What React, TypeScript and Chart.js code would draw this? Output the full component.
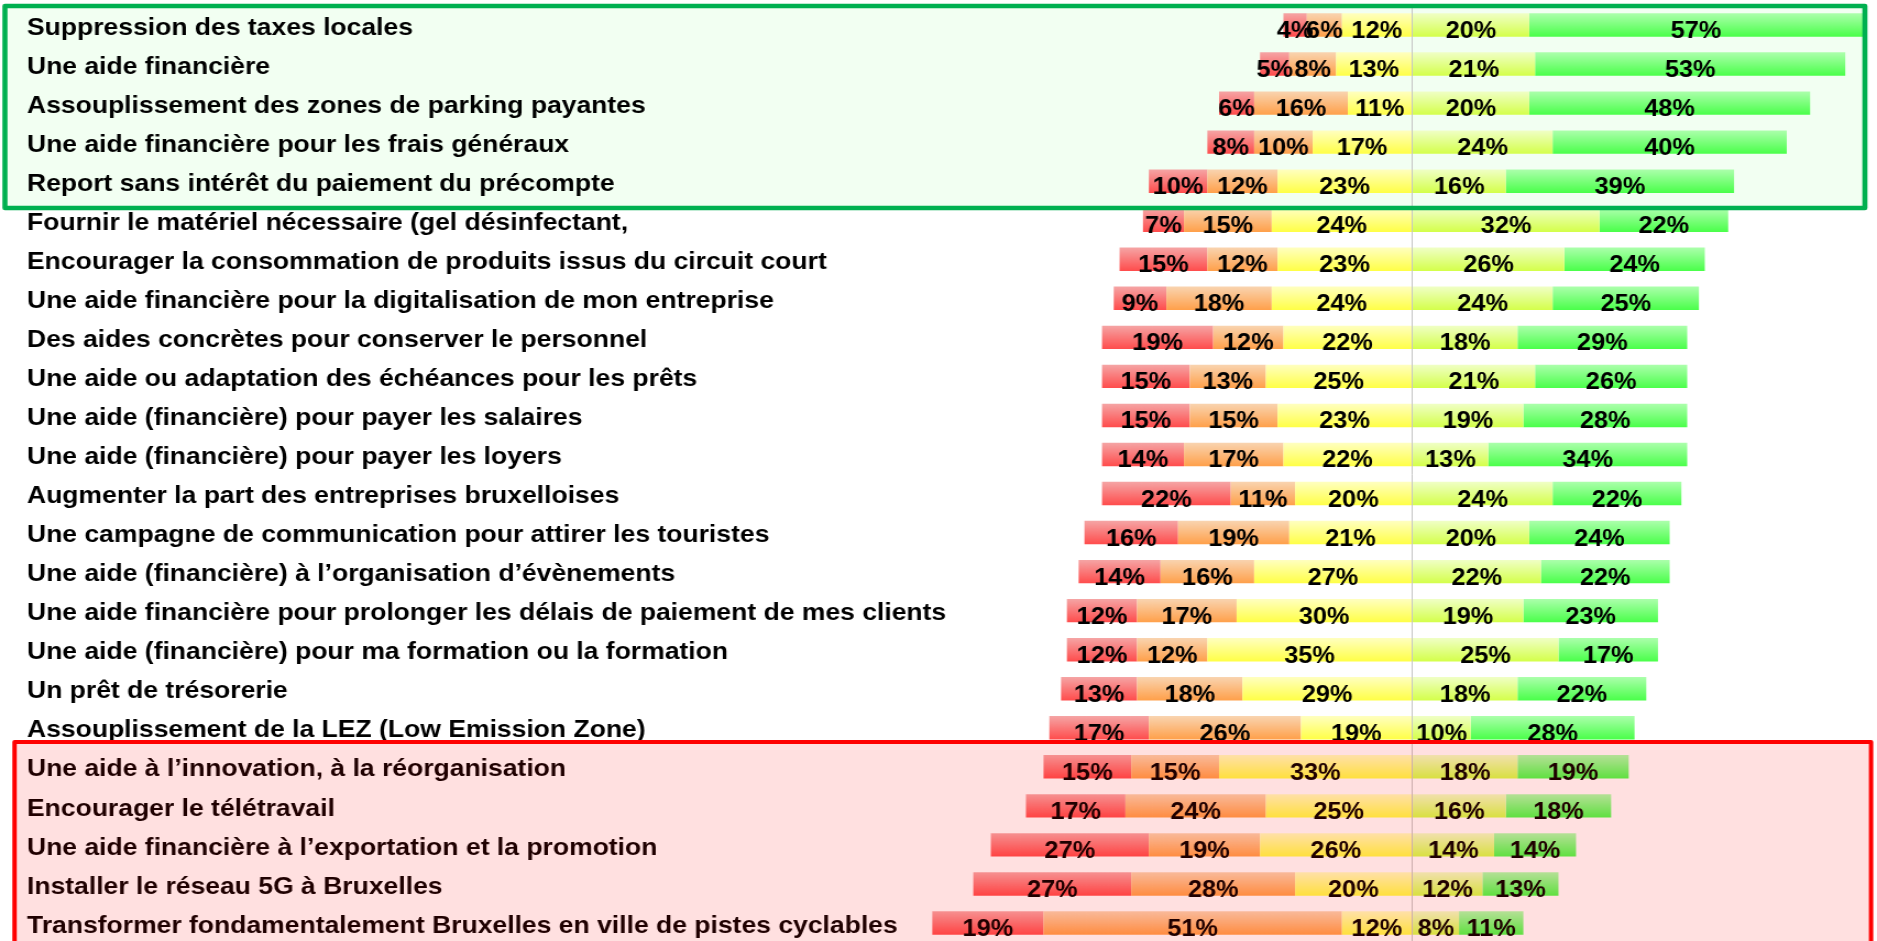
import React, { useEffect, useRef } from 'react';
import { Chart, registerables } from 'chart.js';

Chart.register(...registerables);

// ---------- data ----------
const categories = [
  'Suppression des taxes locales',
  'Une aide financière',
  'Assouplissement des zones de parking payantes',
  'Une aide financière pour les frais généraux',
  'Report sans intérêt du paiement du précompte',
  'Fournir le matériel nécessaire (gel désinfectant,',
  'Encourager la consommation de produits issus du circuit court',
  'Une aide financière pour la digitalisation de mon entreprise',
  'Des aides concrètes pour conserver le personnel',
  'Une aide ou adaptation des échéances pour les prêts',
  'Une aide (financière) pour payer les salaires',
  'Une aide (financière) pour payer les loyers',
  'Augmenter la part des entreprises bruxelloises',
  'Une campagne de communication pour attirer les touristes',
  'Une aide (financière) à l’organisation d’évènements',
  'Une aide financière pour prolonger les délais de paiement de mes clients',
  'Une aide (financière) pour ma formation ou la formation',
  'Un prêt de trésorerie',
  'Assouplissement de la LEZ (Low Emission Zone)',
  'Une aide à l’innovation, à la réorganisation',
  'Encourager le télétravail',
  'Une aide financière à l’exportation et la promotion',
  'Installer le réseau 5G à Bruxelles',
  'Transformer fondamentalement Bruxelles en ville de pistes cyclables',
];

const strongDisagree = [4, 5, 6, 8, 10, 7, 15, 9, 19, 15, 15, 14, 22, 16, 14, 12, 12, 13, 17, 15, 17, 27, 27, 19];
const disagree = [6, 8, 16, 10, 12, 15, 12, 18, 12, 13, 15, 17, 11, 19, 16, 17, 12, 18, 26, 15, 24, 19, 28, 51];
const neutral = [12, 13, 11, 17, 23, 24, 23, 24, 22, 25, 23, 22, 20, 21, 27, 30, 35, 29, 19, 33, 25, 26, 20, 12];
const agree = [20, 21, 20, 24, 16, 32, 26, 24, 18, 21, 19, 13, 24, 20, 22, 19, 25, 18, 10, 18, 16, 14, 12, 8];
const strongAgree = [57, 53, 48, 40, 39, 22, 24, 25, 29, 26, 28, 34, 22, 24, 22, 23, 17, 22, 28, 19, 18, 14, 13, 11];

// highlighted row groups (first / last index)
const greenGroup = [0, 4];
const redGroup = [19, 23];

// ---------- layout / style ----------
const CANVAS_W = 1706;
const CANVAS_H = 948;
const DISPLAY_W = 1877;
const BAR_PCT = 0.6;
const X_MIN = -236.7;
const X_MAX = 78.3;
const FONT = '"Liberation Sans", Arial, Helvetica, sans-serif';

const palette = {
  strongDisagree: ['#f5a5a5', '#ff4c4c'],
  disagree: ['#f9d4b0', '#ffa04a'],
  neutral: ['#ffffc0', '#ffff46'],
  agree: ['#f0ffc6', '#d4ff4a'],
  strongAgree: ['#acffac', '#4aff4a'],
};

function gradientFor(colors: string[]) {
  const [top, bottom] = colors;
  return (ctx: any) => {
    const chart = ctx.chart;
    const y = chart.scales && chart.scales.y;
    if (!chart.chartArea || !y || ctx.dataIndex === undefined) return bottom;
    const c = y.getPixelForValue(ctx.dataIndex);
    const half = ((y.bottom - y.top) / categories.length) * BAR_PCT / 2;
    const g = chart.ctx.createLinearGradient(0, c - half, 0, c + half);
    g.addColorStop(0, top);
    g.addColorStop(1, bottom);
    return g;
  };
}

const neg = (arr: number[]) => arr.map((v) => -v);

const pctLabels = {
  id: 'pctLabels',
  afterDatasetsDraw(chart: any) {
    const ctx = chart.ctx;
    ctx.save();
    ctx.font = `bold 23px ${FONT}`;
    ctx.fillStyle = '#000';
    ctx.textAlign = 'center';
    ctx.textBaseline = 'alphabetic';
    chart.data.datasets.forEach((ds: any, di: number) => {
      const meta = chart.getDatasetMeta(di);
      meta.data.forEach((bar: any, i: number) => {
        const v = Math.abs(ds.data[i]);
        const p = bar.getProps(['x', 'base', 'y'], true);
        ctx.fillText(`${v}%`, (p.x + p.base) / 2, p.y + 13);
      });
    });
    ctx.restore();
  },
};

function groupBox(chart: any, group: number[], padTop: number, padBottom: number) {
  const y = chart.scales.y;
  const rowH = (y.bottom - y.top) / categories.length;
  const top = y.getPixelForValue(group[0]) - rowH / 2 + padTop;
  const bottom = y.getPixelForValue(group[1]) + rowH / 2 + padBottom;
  return { top, bottom };
}

const groupBoxes = {
  id: 'groupBoxes',
  beforeDraw(chart: any) {
    const ctx = chart.ctx;
    const g = groupBox(chart, greenGroup, 0.5, 7.3);
    ctx.save();
    ctx.fillStyle = '#f2fff2';
    ctx.fillRect(4.5, g.top, 1695 - 4.5, g.bottom - g.top);
    ctx.restore();
  },
  afterDraw(chart: any) {
    const ctx = chart.ctx;
    const g = groupBox(chart, greenGroup, 0.5, 7.3);
    const r = groupBox(chart, redGroup, -5.3, 30);
    ctx.save();
    ctx.fillStyle = 'rgba(255,0,0,0.12)';
    ctx.fillRect(13.2, r.top, 1700.6 - 13.2, r.bottom - r.top);
    ctx.lineJoin = 'round';
    ctx.strokeStyle = '#ff0000';
    ctx.lineWidth = 4;
    ctx.strokeRect(13.2, r.top, 1700.6 - 13.2, r.bottom - r.top);
    ctx.strokeStyle = '#00b050';
    ctx.lineWidth = 4.6;
    ctx.strokeRect(4.5, g.top, 1695 - 4.5, g.bottom - g.top);
    ctx.restore();
  },
};

export default function App() {
  const ref = useRef<HTMLCanvasElement>(null);

  useEffect(() => {
    if (!ref.current) return;
    const common = { barPercentage: BAR_PCT, categoryPercentage: 1, borderWidth: 0 };
    const chart = new Chart(ref.current, {
      type: 'bar',
      data: {
        labels: categories,
        datasets: [
          { label: 'neutral', data: neg(neutral), backgroundColor: gradientFor(palette.neutral), ...common },
          { label: 'disagree', data: neg(disagree), backgroundColor: gradientFor(palette.disagree), ...common },
          { label: 'strongDisagree', data: neg(strongDisagree), backgroundColor: gradientFor(palette.strongDisagree), ...common },
          { label: 'agree', data: agree, backgroundColor: gradientFor(palette.agree), ...common },
          { label: 'strongAgree', data: strongAgree, backgroundColor: gradientFor(palette.strongAgree), ...common },
        ],
      },
      options: {
        indexAxis: 'y',
        responsive: false,
        maintainAspectRatio: false,
        animation: false,
        devicePixelRatio: 1,
        layout: { padding: { left: 24.5, right: 6, top: 5.5, bottom: 5.5 } },
        plugins: {
          legend: { display: false },
          tooltip: { enabled: false },
          title: { display: false },
        },
        scales: {
          x: {
            type: 'linear',
            stacked: true,
            min: X_MIN,
            max: X_MAX,
            ticks: { display: false },
            border: { display: false },
            grid: {
              drawTicks: false,
              lineWidth: 1,
              color: (c: any) => (c.tick && c.tick.value === 0 ? '#c4c4c4' : 'rgba(0,0,0,0)'),
            },
          },
          y: {
            type: 'category',
            stacked: true,
            grid: { display: false, drawTicks: false },
            border: { display: false },
            ticks: {
              mirror: true,
              color: '#000',
              font: { family: FONT, size: 24.1, weight: 'bold' },
              padding: 0,
              labelOffset: 3,
              autoSkip: false,
            },
            afterFit: (s: any) => {
              s.width = 0;
              s.paddingTop = 0;
              s.paddingBottom = 0;
            },
          },
        },
      } as any,
      plugins: [groupBoxes, pctLabels],
    });
    return () => chart.destroy();
  }, []);

  return (
    <div
      style={{
        position: 'fixed',
        left: 0,
        top: 0,
        width: DISPLAY_W,
        height: CANVAS_H,
        overflow: 'hidden',
        background: '#fff',
      }}
    >
      <canvas
        ref={ref}
        width={CANVAS_W}
        height={CANVAS_H}
        style={{ width: `${DISPLAY_W}px`, height: `${CANVAS_H}px`, display: 'block' }}
      />
    </div>
  );
}
